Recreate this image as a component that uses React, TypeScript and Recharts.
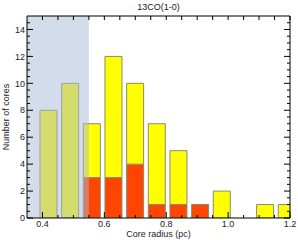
import React from "react";
import {
  ComposedChart,
  Bar,
  XAxis,
  YAxis,
  ReferenceArea,
} from "recharts";

// ── Histogram data (bin centres in pc, counts) ────────────────────────────────
const binCenters = [0.42, 0.49, 0.56, 0.63, 0.7, 0.77, 0.84, 0.91, 0.98, 1.05, 1.12, 1.19];
const totalCounts = [8, 10, 7, 12, 10, 7, 5, 1, 2, 0, 1, 1];
const redCounts = [0, 0, 3, 3, 4, 1, 1, 1, 0, 0, 0, 0];

// ── Axis ticks ────────────────────────────────────────────────────────────────
const xLabelTicks = [0.4, 0.6, 0.8, 1.0, 1.2];
const xAllTicks = [
  0.4, 0.45, 0.5, 0.55, 0.6, 0.65, 0.7, 0.75, 0.8, 0.85,
  0.9, 0.95, 1.0, 1.05, 1.1, 1.15, 1.2,
];
const yLabelTicks = [0, 2, 4, 6, 8, 10, 12, 14];
const yAllTicks = [
  0, 0.5, 1, 1.5, 2, 2.5, 3, 3.5, 4, 4.5, 5, 5.5, 6, 6.5, 7,
  7.5, 8, 8.5, 9, 9.5, 10, 10.5, 11, 11.5, 12, 12.5, 13, 13.5, 14, 14.5,
];

const X_DOMAIN: [number, number] = [0.35, 1.2];
const Y_DOMAIN: [number, number] = [0, 15];
const SHADE_RANGE = [0.35, 0.55];

const FONT = "'Liberation Sans', Arial, Helvetica, sans-serif";
const YELLOW = "#ffff00";
const RED = "#ff4500";
const OUTLINE = "#8a8a72";

const data = binCenters.map((r, i) => ({
  r,
  red: redCounts[i],
  yellow: totalCounts[i] - redCounts[i],
}));

const isMajor = (list: number[], v: number) =>
  list.some((t) => Math.abs(t - v) < 1e-6);

// ── Inward ticks (IDL-style frame) ────────────────────────────────────────────
const GAP = 3;

function BottomTick({ x, y, payload }: any) {
  const v = payload.value as number;
  const major = isMajor(xLabelTicks, v);
  const base = y - GAP;
  return (
    <g>
      <line x1={x} x2={x} y1={base} y2={base - (major ? 6 : 3)} stroke="#000" />
      {major && (
        <text x={x} y={y} dy="0.71em" textAnchor="middle" fontSize={9} fontFamily={FONT} fill="#222">
          {v.toFixed(1)}
        </text>
      )}
    </g>
  );
}

function TopTick({ x, y }: any) {
  return <line x1={x} x2={x} y1={y} y2={y + 4} stroke="#000" />;
}

function LeftTick({ x, y, payload }: any) {
  const v = payload.value as number;
  const major = isMajor(yLabelTicks, v);
  const base = x + 2;
  return (
    <g>
      <line x1={base} x2={base + (major ? 6 : 3)} y1={y} y2={y} stroke="#000" />
      {major && (
        <text x={x} y={y} dy="0.355em" textAnchor="end" fontSize={9} fontFamily={FONT} fill="#222">
          {v}
        </text>
      )}
    </g>
  );
}

function RightTick({ x, y, payload }: any) {
  const major = isMajor(yLabelTicks, payload.value);
  return <line x1={x} x2={x - (major ? 6 : 3)} y1={y} y2={y} stroke="#000" />;
}

export default function App() {
  return (
    <div style={{ width: 298, height: 240, background: "#fff" }}>
      <style>{`body{margin:0}`}</style>
      <ComposedChart
        width={298}
        height={240}
        data={data}
        margin={{ top: 16, right: 8, bottom: 0, left: 0 }}
        barCategoryGap="10%"
      >
        <XAxis
          xAxisId="b"
          type="number"
          dataKey="r"
          domain={X_DOMAIN}
          allowDataOverflow
          ticks={xAllTicks}
          interval={0}
          tick={<BottomTick />}
          tickLine={false}
          tickSize={0}
          tickMargin={GAP}
          axisLine={{ stroke: "#000" }}
          height={22}
          label={{
            value: "Core radius (pc)",
            position: "insideBottom",
            offset: 3,
            fontSize: 9,
            fontFamily: FONT,
            fill: "#222",
          }}
        />
        <XAxis
          xAxisId="t"
          orientation="top"
          mirror
          type="number"
          dataKey="r"
          domain={X_DOMAIN}
          allowDataOverflow
          ticks={xAllTicks}
          interval={0}
          tick={<TopTick />}
          tickLine={false}
          tickSize={0}
          tickMargin={0}
          axisLine={{ stroke: "#000" }}
          height={10}
          label={{
            value: "13CO(1-0)",
            position: "top",
            offset: 6,
            fontSize: 9,
            fontFamily: FONT,
            fill: "#222",
          }}
        />
        <YAxis
          yAxisId="l"
          type="number"
          domain={Y_DOMAIN}
          allowDataOverflow
          ticks={yAllTicks}
          interval={0}
          tick={<LeftTick />}
          tickLine={false}
          tickSize={0}
          tickMargin={2}
          axisLine={{ stroke: "#000" }}
          width={27}
          label={{
            value: "Number of cores",
            angle: -90,
            position: "insideLeft",
            offset: 6,
            fontSize: 9,
            fontFamily: FONT,
            fill: "#222",
            style: { textAnchor: "middle" },
          }}
        />
        <YAxis
          yAxisId="r"
          orientation="right"
          mirror
          type="number"
          domain={Y_DOMAIN}
          allowDataOverflow
          ticks={yAllTicks}
          interval={0}
          tick={<RightTick />}
          tickLine={false}
          tickSize={0}
          tickMargin={0}
          axisLine={{ stroke: "#000" }}
          width={10}
        />

        <Bar
          xAxisId="b"
          yAxisId="l"
          dataKey="red"
          stackId="c"
          fill={RED}
          stroke={OUTLINE}
          isAnimationActive={false}
        />
        <Bar
          xAxisId="b"
          yAxisId="l"
          dataKey="yellow"
          stackId="c"
          fill={YELLOW}
          stroke={OUTLINE}
          isAnimationActive={false}
        />

        <ReferenceArea
          xAxisId="b"
          yAxisId="l"
          x1={SHADE_RANGE[0]}
          x2={SHADE_RANGE[1]}
          y1={Y_DOMAIN[0]}
          y2={Y_DOMAIN[1]}
          fill="#a7bad8"
          fillOpacity={0.5}
          stroke="none"
          ifOverflow="hidden"
          {...({ zIndex: 350 } as any)}
        />
      </ComposedChart>
    </div>
  );
}
